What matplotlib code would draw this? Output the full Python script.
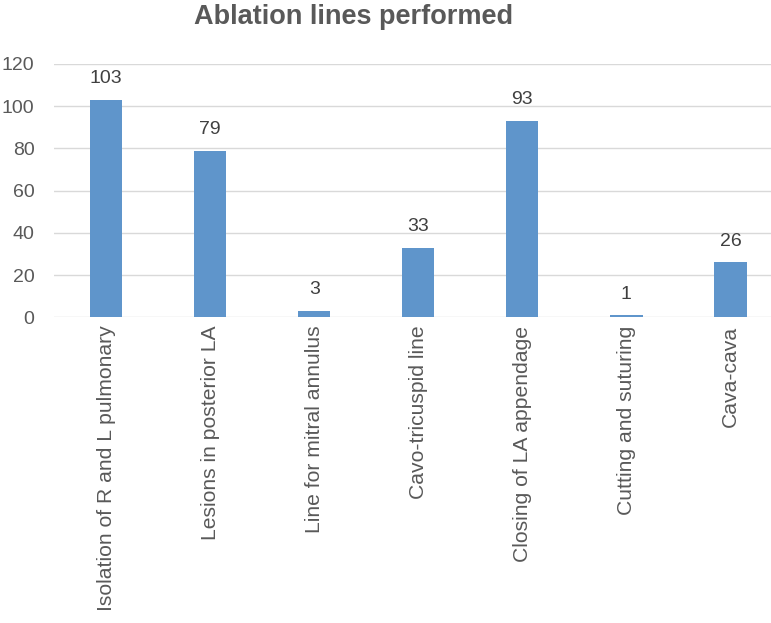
import matplotlib
matplotlib.use('Agg')
import matplotlib.pyplot as plt
import numpy as np

matplotlib.rcParams['font.family'] = ['Liberation Sans', 'DejaVu Sans']

# Data
categories = [
    'Isolation of R and L pulmonary',
    'Lesions in posterior LA',
    'Line for mitral annulus',
    'Cavo-tricuspid line',
    'Closing of LA appendage',
    'Cutting and suturing',
    'Cava-cava',
]
counts = [103, 79, 3, 33, 93, 1, 26]
yticks = [0, 20, 40, 60, 80, 100, 120]

BAR_COLOR = '#5f95cb'
TEXT_GREY = '#595959'
GRID_GREY = '#d9d9d9'

fig = plt.figure(figsize=(7.71, 6.23), dpi=100)
# axes runs slightly past the right edge, like the cropped original
ax = fig.add_axes([0.070, 0.4907, 0.945, 0.4066])

x = np.arange(len(categories))
bars = ax.bar(x, counts, width=0.31, color=BAR_COLOR, zorder=3)

# value labels above the bars
for rect, val in zip(bars, counts):
    ax.annotate(str(val), (rect.get_x() + rect.get_width() / 2, rect.get_height()),
                xytext=(0, 9), textcoords='offset points',
                ha='center', va='bottom', fontsize=14, color='#404040')

ax.set_xlim(-0.5, len(categories) - 0.5)
ax.set_ylim(0, 120)
ax.set_yticks(yticks)
ax.set_xticks(x)
ax.set_xticklabels(categories, rotation=90, ha='center', va='top', fontsize=15.2)

ax.grid(True, axis='y', color=GRID_GREY, linewidth=1.0, zorder=0)
for name, spine in ax.spines.items():
    spine.set_visible(False)

ax.tick_params(axis='both', length=0, labelcolor=TEXT_GREY)
ax.tick_params(axis='y', pad=14, labelsize=14)
ax.tick_params(axis='x', pad=6)

fig.text(0.458, 0.972, 'Ablation lines performed', ha='center', va='center',
         fontsize=19.5, fontweight='bold', color=TEXT_GREY)

fig.savefig('out.png', dpi=100, facecolor='white')
